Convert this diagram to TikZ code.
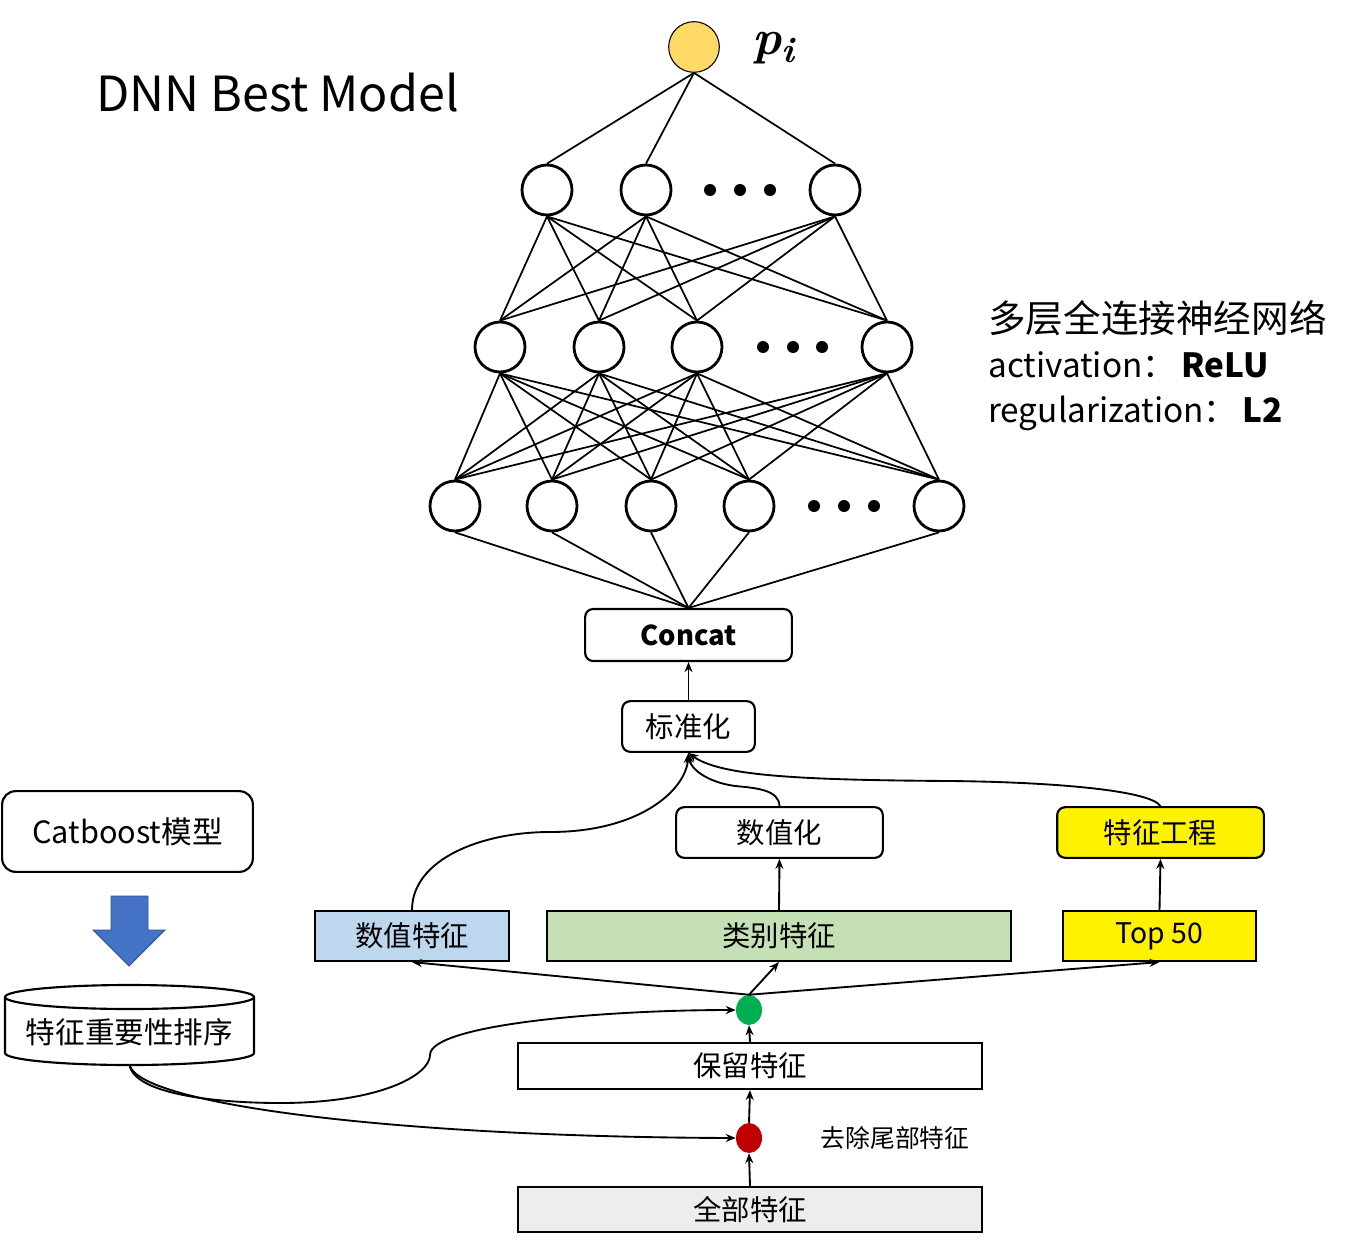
\documentclass[tikz,border=0pt]{standalone}
\usepackage{fontspec}
\setmainfont{Noto Sans CJK SC}
\newfontfamily\pfont{Latin Modern Roman}
\usetikzlibrary{arrows.meta,shapes.geometric}
\newcommand{\fsTitle}{\fontsize{36.3}{44}\selectfont}
\newcommand{\fsCn}{\fontsize{28.2}{33}\selectfont}
\newcommand{\fsLat}{\fontsize{25}{30}\selectfont}
\newcommand{\fsBox}{\fontsize{21.3}{25}\selectfont}
\newcommand{\fsSmall}{\fontsize{18.6}{22}\selectfont}
\newcommand{\fsP}{\fontsize{37}{44}\selectfont\pfont\bfseries\itshape}
\definecolor{yel}{HTML}{FFD966}
\definecolor{blu}{HTML}{BDD7EE}
\definecolor{grn}{HTML}{C5E0B4}
\definecolor{lgray}{HTML}{EDEDED}
\definecolor{dgreen}{HTML}{00B050}
\definecolor{dred}{HTML}{C00000}
\definecolor{arrblue}{HTML}{4472C4}
\definecolor{arrblueb}{HTML}{2F528F}
\begin{document}
\begin{tikzpicture}[x=0.75pt,y=-0.75pt,
  neuron/.style={circle,draw,line width=2.1pt,minimum size=37.5pt,inner sep=0pt,fill=white},
  edge/.style={line width=1.3pt},
  dotc/.style={circle,fill,inner sep=0pt,minimum size=9pt},
  rbox/.style={draw,rounded corners=6pt,line width=1.6pt,inner sep=0pt,font=\fsBox},
  sbox/.style={draw,line width=1.6pt,inner sep=0pt,font=\fsBox},
  arr/.style={-{Stealth[length=7.5pt,width=6pt]},line width=1.4pt}]
\useasboundingbox (0,0) rectangle (1348,1245);

% title
\node[anchor=base west,inner sep=0pt,font=\fsTitle] (title) at (96,112) {DNN Best Model};

% output neuron
\node[circle,draw,line width=0.8pt,fill=yel,minimum size=38pt,inner sep=0pt] (o) at (694,47) {};
\node[anchor=base west,inner sep=0pt,font=\fsP] (plabel) at (752,55) {p\raisebox{-6pt}{\fontsize{27}{30}\selectfont i}};

% hidden layers
\node[neuron] (h1a) at (547,190) {};
\node[neuron] (h1b) at (646,190) {};
\node[neuron] (h1c) at (835,190) {};
\node[neuron] (h2a) at (500,347) {};
\node[neuron] (h2b) at (599,347) {};
\node[neuron] (h2c) at (697,347) {};
\node[neuron] (h2d) at (887,347) {};
\node[neuron] (h3a) at (455,506) {};
\node[neuron] (h3b) at (552,506) {};
\node[neuron] (h3c) at (651,506) {};
\node[neuron] (h3d) at (749,506) {};
\node[neuron] (h3e) at (939,506) {};

% dots
\foreach \xx/\yy [count=\k] in {710/190,740/190,770/190,763/347,793/347,822/347,814/506,844/506,874/506}
  \node[dotc] (dot\k) at (\xx,\yy) {};

% concat
\node[rbox,minimum width=155pt,minimum height=39pt,font=\fontsize{20.5}{25}\selectfont\bfseries] (concat) at (688.5,635) {Concat};

% edges
\foreach \b in {h1a,h1b,h1c} \draw[edge] (o.south) -- (\b.north);
\foreach \a in {h1a,h1b,h1c} \foreach \b in {h2a,h2b,h2c,h2d} \draw[edge] (\a.south) -- (\b.north);
\foreach \a in {h2a,h2b,h2c,h2d} \foreach \b in {h3a,h3b,h3c,h3d,h3e} \draw[edge] (\a.south) -- (\b.north);
\foreach \a in {h3a,h3b,h3c,h3d,h3e} \draw[edge] (\a.south) -- (concat.north);

% right text
\node[anchor=base west,inner sep=0pt,font=\fsCn] (t1) at (988,332) {多层全连接神经网络};
\node[anchor=base west,inner sep=0pt,font=\fsLat] (t2) at (988,377) {activation：\,\textbf{ReLU}};
\node[anchor=base west,inner sep=0pt,font=\fsLat] (t3) at (988,422) {regularization：\,\textbf{L2}};

% boxes
\node[rbox,minimum width=99.5pt,minimum height=38pt] (std) at (688.5,726.5) {标准化};
\node[rbox,minimum width=155pt,minimum height=38pt] (numz) at (779.5,832.5) {数值化};
\node[rbox,fill=yellow,minimum width=155pt,minimum height=38pt] (fe) at (1160.5,832.5) {特征工程};
\node[rbox,rounded corners=10pt,minimum width=188pt,minimum height=60.5pt,font=\fontsize{23}{27}\selectfont] (cat) at (127.5,831.5) {Catboost模型};

\node[sbox,fill=blu,minimum width=145.5pt,minimum height=37.5pt] (numf) at (412,936) {数值特征};
\node[sbox,fill=grn,minimum width=348pt,minimum height=37.5pt] (catf) at (779,936) {类别特征};
\node[sbox,fill=yellow,minimum width=144.75pt,minimum height=37.5pt] (top) at (1159.5,936) {Top 50};
\node[sbox,fill=white,minimum width=348pt,minimum height=34.5pt] (keep) at (750,1066) {保留特征};
\node[sbox,fill=lgray,minimum width=348pt,minimum height=34pt] (all) at (750,1209.5) {全部特征};

% ellipses
\node[ellipse,fill=dgreen,minimum width=19.5pt,minimum height=22.5pt,inner sep=0pt] (ge) at (749,1010) {};
\node[ellipse,fill=dred,minimum width=19.5pt,minimum height=22.5pt,inner sep=0pt] (re) at (749,1138) {};
\node[anchor=center,inner sep=0pt,font=\fsSmall] (cut) at (895,1138) {去除尾部特征};

% cylinder
\draw[line width=1.6pt,fill=white] (5,997) -- (5,1053) arc[start angle=180,end angle=0,x radius=124.5,y radius=12] -- (254,997);
\draw[line width=1.6pt,fill=white] (129.5,997) ellipse[x radius=124.5,y radius=12];
\node[inner sep=0pt,font=\fontsize{22.2}{26}\selectfont] (rank) at (129.5,1032) {特征重要性排序};
\coordinate (cylb) at (129.5,1065);

% blue arrow
\draw[fill=arrblue,draw=arrblueb,line width=0.6pt] (111,896) -- (148,896) -- (148,930) -- (165,930) -- (129,966) -- (93,930) -- (111,930) -- cycle;

% connectors
\draw[arr] (std.north) -- (concat.south);
\draw[arr] (all.north) -- (re.south);
\draw[arr] (re.north) -- (keep.south);
\draw[arr] (keep.north) -- (ge.south);
\draw[arr] (ge.north) -- (numf.south);
\draw[arr] (ge.north) -- (catf.south);
\draw[arr] (ge.north) -- (top.south);
\draw[arr] (catf.north) -- (numz.south);
\draw[arr] (top.north) -- (fe.south);
\draw[arr] (numf.north) .. controls (412,860) and (480,832) .. (550,832) .. controls (640,832) and (686,790) .. (std.south);
\draw[arr] (numz.north) .. controls (779,790) and (757,788) .. (735,786) .. controls (706,782) and (690,768) .. (std.south);
\draw[arr] (fe.north) .. controls (1150,790) and (1050,782) .. (950,781) .. controls (800,780) and (720,776) .. (std.south);
\draw[arr] (cylb) .. controls (135,1095) and (220,1103) .. (280,1103) .. controls (380,1103) and (430,1075) .. (430,1055) .. controls (430,1025) and (600,1010) .. (ge.west);
\draw[arr] (cylb) .. controls (140,1105) and (400,1137) .. (re.west);
\end{tikzpicture}
\end{document}
